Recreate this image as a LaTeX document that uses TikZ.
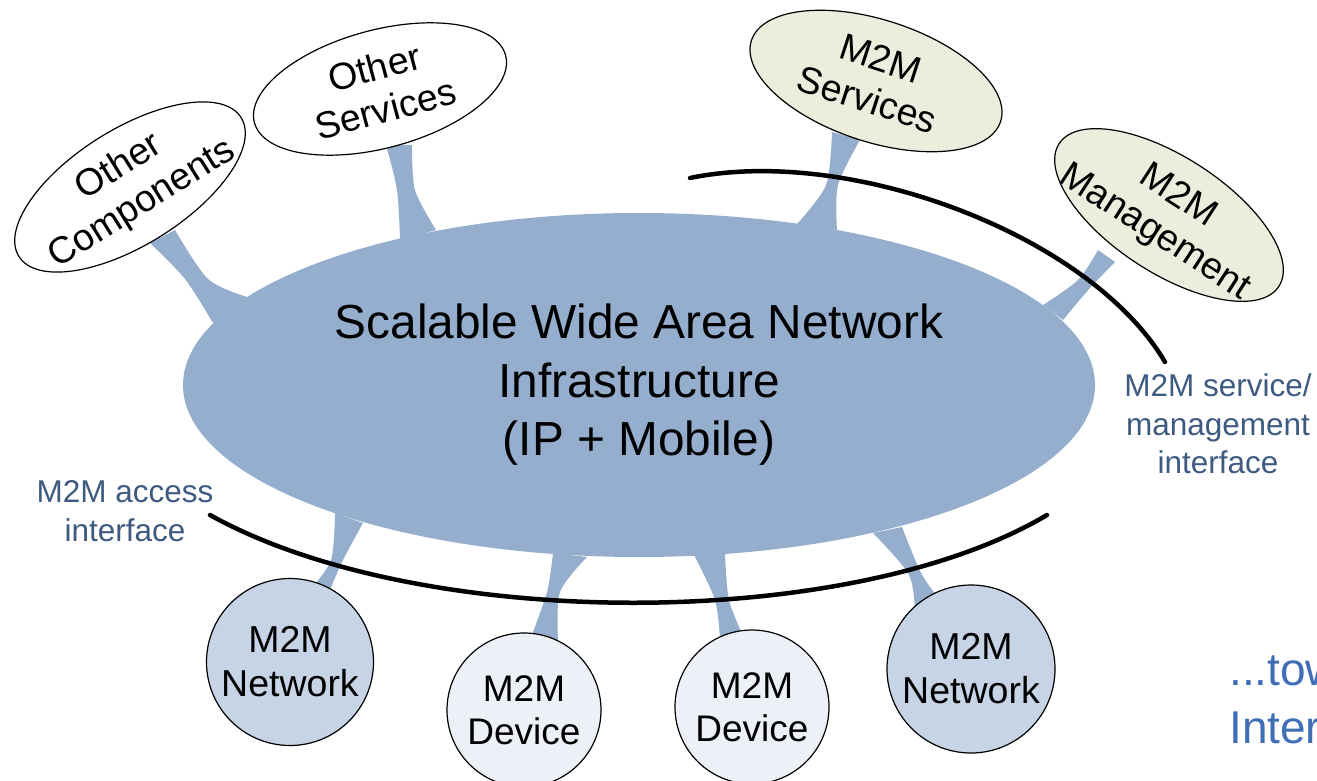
\documentclass[tikz,border=0pt]{standalone}
\usepackage{fontspec}
\setmainfont{Liberation Sans}
\usetikzlibrary{shapes.geometric}
\definecolor{wanblue}{HTML}{95AECE}
\definecolor{netfill}{HTML}{C6D4E6}
\definecolor{devfill}{HTML}{EDF1F7}
\definecolor{m2mfill}{HTML}{EBEEDC}
\definecolor{labelblue}{HTML}{3D5A80}
\definecolor{towblue}{HTML}{3E6EB5}
\begin{document}
\begin{tikzpicture}[x=1pt,y=-1pt,
  stem/.style={fill=wanblue},
  satshape/.style={ellipse, draw=black, line width=1.2pt, inner sep=0pt},
  sattext/.style={align=center, inner sep=0pt, font=\fontsize{37.5}{43}\selectfont},
  netc/.style={circle, draw=black, line width=1.2pt, fill=netfill, inner sep=0pt, align=center, font=\fontsize{37.5}{44}\selectfont},
  devc/.style={circle, draw=black, line width=1.2pt, fill=devfill, inner sep=0pt, align=center, font=\fontsize{37}{43}\selectfont},
  iface/.style={draw=black, line width=4.5pt, line cap=round},
  lbl/.style={align=center, text=labelblue, inner sep=0pt, font=\fontsize{31.5}{38.5}\selectfont},
  tow/.style={text=towblue, inner sep=0pt, font=\fontsize{46}{58}\selectfont}]
\clip (0,0) rectangle (1317,781);
% stems
\fill[stem] plot[smooth] coordinates {(150,243) (185,279) (213,323)} -- plot[smooth] coordinates {(247,297) (208,279) (175,230)} -- cycle;
\fill[stem] plot[smooth] coordinates {(386,145) (397,190) (400,240)} -- plot[smooth] coordinates {(436,230) (415,190) (412,145)} -- cycle;
\fill[stem] plot[smooth] coordinates {(832,132) (826,185) (797,224)} -- plot[smooth] coordinates {(837,230) (838,185) (860,140)} -- cycle;
\fill[stem] plot[smooth] coordinates {(1098,250) (1078,280) (1043,305)} -- plot[smooth] coordinates {(1063,320) (1090,288) (1115,262)} -- cycle;
\fill[stem] plot[smooth] coordinates {(335,513) (331,560) (310,590)} -- plot[smooth] coordinates {(330,590) (343,560) (363,523)} -- cycle;
\fill[stem] plot[smooth] coordinates {(553,553) (547,592) (530,640)} -- plot[smooth] coordinates {(558,640) (560,592) (587,557)} -- cycle;
\fill[stem] plot[smooth] coordinates {(694,555) (715,600) (720,640)} -- plot[smooth] coordinates {(745,640) (729,600) (725,553)} -- cycle;
\fill[stem] plot[smooth] coordinates {(873,533) (909,575) (915,615)} -- plot[smooth] coordinates {(940,600) (921,573) (902,527)} -- cycle;
% main network
\node[ellipse, fill=wanblue, minimum width=912pt, minimum height=344pt, inner sep=0pt, align=center, font=\fontsize{47.8}{58.5}\selectfont] (wan) at (639,385) {Scalable Wide Area Network\\Infrastructure\\(IP + Mobile)};
% interface arcs
\draw[iface] (690,178) .. controls (850,145) and (1090,235) .. (1165,362);
\draw[iface] (210,515) .. controls (420,632) and (850,632) .. (1047,515);
% satellites
\node[satshape, fill=white, minimum width=262pt, minimum height=116pt, rotate=32] (ocomp) at (130,187) {};
\node[sattext, rotate=32] (ocompT) at (131,186) {Other\\Components};
\node[satshape, fill=white, minimum width=260pt, minimum height=118pt, rotate=15] (oserv) at (380,89) {};
\node[sattext, rotate=15] (oservT) at (380,88) {Other\\Services};
\node[satshape, fill=m2mfill, minimum width=262pt, minimum height=122pt, rotate=-18] (mserv) at (876,81) {};
\node[sattext, rotate=-18] (mservT) at (874,79) {M2M\\Services};
\node[satshape, fill=m2mfill, minimum width=262pt, minimum height=116pt, rotate=-33] (mman) at (1169,215) {};
\node[sattext, rotate=-33] (mmanT) at (1166,215) {M2M\\Management};
% bottom circles
\node[netc, minimum size=167pt] (net1) at (290,662) {M2M\\Network};
\node[devc, minimum size=154pt] (dev1) at (524,710) {M2M\\Device};
\node[devc, minimum size=154pt] (dev2) at (752,707) {M2M\\Device};
\node[netc, minimum size=168pt] (net2) at (971,669) {M2M\\Network};
% labels
\node[lbl] (acc) at (125,511) {M2M access\\interface};
\node[lbl] (mgi) at (1218,424) {M2M service/\\management\\interface};
\node[tow, anchor=base west] (tow1) at (1229,685) {...tow};
\node[tow, anchor=base west] (tow2) at (1229,743) {Inter};
\end{tikzpicture}
\end{document}
